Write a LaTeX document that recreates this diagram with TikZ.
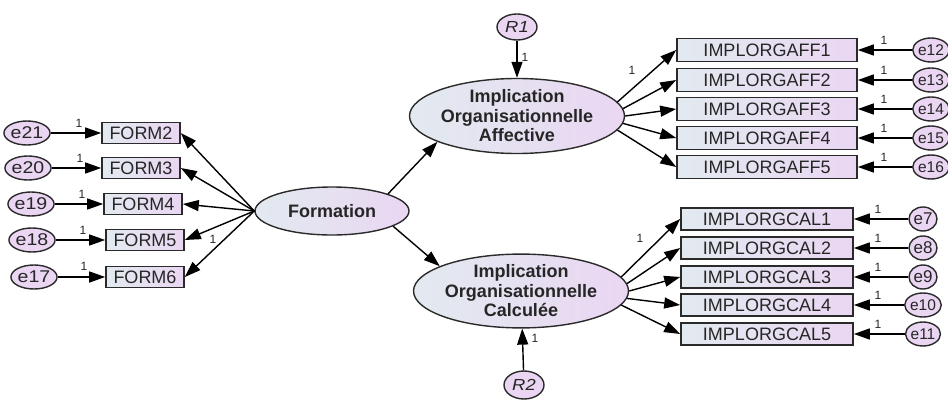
\documentclass[tikz,border=0pt]{standalone}
\usepackage{graphicx}
\usepackage{fontspec}
\setmainfont{Liberation Sans}
\usetikzlibrary{arrows.meta,shapes.geometric}

\definecolor{bl}{HTML}{E2EAF0}
\definecolor{lv}{HTML}{EAD6F2}
\definecolor{ed}{HTML}{2A2A2A}
\definecolor{tx}{HTML}{262626}
\newcommand{\hx}[1]{\scalebox{1.15}[1]{#1}}

\tikzset{
 obs/.style={rectangle, draw=ed, line width=1.6pt, left color=bl, right color=lv, minimum width=#1, minimum height=21pt, inner sep=0pt, text=tx, font=\fontsize{18}{19}\selectfont},
 lat/.style={ellipse, draw=ed, line width=1.4pt, left color=bl, right color=lv, inner sep=0pt, text=tx, font=\bfseries\fontsize{18}{19.5}\selectfont, align=center},
 err/.style={ellipse, draw=ed, line width=1.4pt, fill=lv, inner sep=0pt, minimum width=#1, minimum height=24pt, text=tx, font=\fontsize{17}{17}\selectfont},
 arr/.style={-{Triangle[length=16pt,width=11pt]}, line width=1.4pt, black},
 one/.style={font=\fontsize{12}{12}\selectfont, inner sep=0pt, text=tx},
}

\begin{document}
\begin{tikzpicture}[x=1pt,y=-1pt]
\useasboundingbox (0,0) rectangle (948,401);

% latent variables
\node[lat, minimum width=154pt, minimum height=48pt] (form) at (332,211) {Formation};
\node[lat, minimum width=192pt, minimum height=75pt] (aff) at (517,116) {Implication\\Organisationnelle\\Affective};
\node[lat, minimum width=190pt, minimum height=64pt] (cal) at (521,291) {Implication\\Organisationnelle\\Calculée};

% residuals
\node[err=40pt, minimum height=26pt, font=\itshape\fontsize{16}{16}\selectfont] (r1) at (517,27) {\hx{R1}};
\node[err=40pt, minimum height=28pt, font=\itshape\fontsize{16}{16}\selectfont] (r2) at (524,385) {\hx{R2}};

% left observed
\node[obs=78pt] (f2) at (141,133) {FORM2};
\node[obs=78pt] (f3) at (141,168) {FORM3};
\node[obs=78pt] (f4) at (143,204) {FORM4};
\node[obs=78pt] (f5) at (145,240) {FORM5};
\node[obs=78pt] (f6) at (145,277) {FORM6};

\node[err=40pt] (e21) at (27,133) {\hx{e21}};
\node[err=40pt] (e20) at (28,168) {\hx{e20}};
\node[err=40pt] (e19) at (31,204) {\hx{e19}};
\node[err=40pt] (e18) at (32,240) {\hx{e18}};
\node[err=40pt] (e17) at (34,277) {\hx{e17}};

% right observed (affective)
\node[obs=180pt, minimum height=23pt] (a1) at (767,50) {IMPLORGAFF1};
\node[obs=180pt, minimum height=23pt] (a2) at (767,80) {IMPLORGAFF2};
\node[obs=180pt, minimum height=23pt] (a3) at (767,109) {IMPLORGAFF3};
\node[obs=180pt, minimum height=23pt] (a4) at (767,138) {IMPLORGAFF4};
\node[obs=180pt, minimum height=23pt] (a5) at (767,167) {IMPLORGAFF5};

\tikzset{errs/.style={err=30pt, font=\fontsize{15.5}{16}\selectfont}}
\node[errs] (e12) at (931,50) {e12};
\node[errs] (e13) at (931,80) {e13};
\node[errs] (e14) at (931,109) {e14};
\node[errs] (e15) at (931,138) {e15};
\node[errs] (e16) at (931,167) {e16};

% right observed (calculee)
\node[obs=172pt, minimum height=22pt] (c1) at (767,219) {IMPLORGCAL1};
\node[obs=172pt, minimum height=22pt] (c2) at (767,248) {IMPLORGCAL2};
\node[obs=172pt, minimum height=22pt] (c3) at (767,277) {IMPLORGCAL3};
\node[obs=172pt, minimum height=22pt] (c4) at (767,305) {IMPLORGCAL4};
\node[obs=172pt, minimum height=22pt] (c5) at (767,334) {IMPLORGCAL5};

\node[err=28pt] (e7) at (923,219) {e7};
\node[err=28pt] (e8) at (923,248) {e8};
\node[err=28pt] (e9) at (923,277) {e9};
\node[errs] (e10) at (923,305) {e10};
\node[errs] (e11) at (923,334) {e11};

% structural paths
\draw[arr] (form.17) -- (aff.198);
\draw[arr] (form.-14) -- (cal.163);
\draw[arr] (r1) -- (aff);
\draw[arr] (r2) -- (cal);

% formation loadings
\foreach \b in {f2,f3,f4,f5,f6} \draw[arr] (form.west) -- (\b.east);
\foreach \e/\b in {e21/f2,e20/f3,e19/f4,e18/f5,e17/f6} \draw[arr] (\e) -- (\b);

% affective loadings
\draw[arr] (aff.8) -- (a1.west);
\draw[arr] (aff.4) -- (a2.west);
\draw[arr] (aff.0) -- (a3.west);
\draw[arr] (aff.-4) -- (a4.west);
\draw[arr] (aff.-8) -- (a5.west);
\foreach \e/\b in {e12/a1,e13/a2,e14/a3,e15/a4,e16/a5} \draw[arr] (\e) -- (\b);

% calculee loadings
\draw[arr] (cal.8) -- (c1.west);
\draw[arr] (cal.4) -- (c2.west);
\draw[arr] (cal.0) -- (c3.west);
\draw[arr] (cal.-4) -- (c4.west);
\draw[arr] (cal.-8) -- (c5.west);
\foreach \e/\b in {e7/c1,e8/c2,e9/c3,e10/c4,e11/c5} \draw[arr] (\e) -- (\b);

% labels "1"
\node[one] (l21) at (79,123) {1};
\node[one] (l20) at (80,158) {1};
\node[one] (l19) at (82,194) {1};
\node[one] (l18) at (83,230) {1};
\node[one] (l17) at (84,266) {1};
\node[one] (lf5) at (213,239) {1};
\node[one] (lr1) at (525,57) {1};
\node[one] (lr2) at (535,338) {1};
\node[one] (la) at (632,70) {1};
\node[one] (lc) at (640,238) {1};
\foreach \y [count=\i] in {40,70,99,128,157} \node[one] (la\i) at (884,\y) {1};
\foreach \y [count=\i] in {209,238,267,295,324} \node[one] (lc\i) at (878,\y) {1};
\end{tikzpicture}
\end{document}
